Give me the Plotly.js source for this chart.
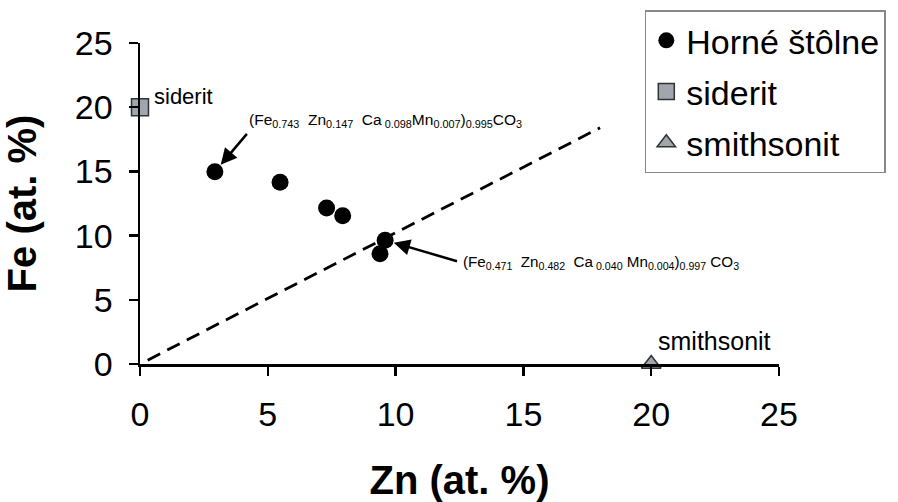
<!DOCTYPE html>
<html>
<head>
<meta charset="utf-8">
<script src="https://cdn.plot.ly/plotly-3.0.1.min.js"></script>
<style>html,body{margin:0;padding:0;background:#fff;}#chart{width:898px;height:502px;}</style>
</head>
<body>
<div id="chart"></div>
<script>
const hornX = [2.93, 5.48, 7.30, 7.93, 9.59, 9.39];
const hornY = [14.98, 14.16, 12.15, 11.55, 9.64, 8.58];
const sideritX = [0];
const sideritY = [20];
const smithX = [20];
const smithY = [0];
const lineX = [0.3, 18];
const lineY = [0.3, 18.4];
const tickVals = [0, 5, 10, 15, 20, 25];
const tickText = ['0', '5', '10', '15', '20', '25'];

const FONT = 'Liberation Sans, Arial, sans-serif';
const gray = '#a1a5ae';

const traces = [
  {x: lineX, y: lineY, mode: 'lines', line: {color: '#000', width: 2.8, dash: '14px,8px'}, showlegend: false, hoverinfo: 'skip'},
  {x: hornX, y: hornY, mode: 'markers', name: 'Horné štôlne', legendgroup: 'a',
   marker: {symbol: 'circle', size: 17, color: '#000'}, cliponaxis: false},
  {x: sideritX, y: sideritY, mode: 'markers', name: 'siderit', legendgroup: 'b',
   marker: {symbol: 'square', size: 17, color: gray, line: {color: '#333', width: 1.5}}, cliponaxis: false},
  {x: smithX, y: smithY, mode: 'markers', name: 'smithsonit', legendgroup: 'c',
   marker: {symbol: 'triangle-up', size: 17, color: gray, line: {color: '#333', width: 1.5}}, cliponaxis: false}
];

const layout = {
  width: 898, height: 502,
  margin: {l: 140, r: 119, t: 43, b: 138, autoexpand: false},
  paper_bgcolor: '#fff', plot_bgcolor: '#fff',
  font: {family: FONT, color: '#000'},
  showlegend: true,
  legend: {
    x: 0.79, y: 1.102, xanchor: 'left', yanchor: 'top',
    bgcolor: '#fff', bordercolor: '#888', borderwidth: 1.5,
    font: {family: FONT, size: 34, color: '#000'},
    traceorder: 'grouped', tracegroupgap: 4,
    entrywidth: 240, entrywidthmode: 'pixels'
  },
  xaxis: {
    range: [0, 25], tickvals: tickVals, ticktext: tickText,
    showgrid: false, zeroline: false, showline: true, linecolor: '#000', linewidth: 2.5,
    ticks: 'outside', ticklen: 9, tickwidth: 2.5, tickcolor: '#000',
    tickfont: {family: FONT, size: 34}, ticklabelstandoff: 10,
    title: {text: '<b>Zn (at. %)</b>', font: {family: FONT, size: 40}, standoff: 34},
    automargin: false, fixedrange: true
  },
  yaxis: {
    range: [0, 25], tickvals: tickVals, ticktext: tickText,
    showgrid: false, zeroline: false, showline: true, linecolor: '#000', linewidth: 2.5,
    ticks: 'outside', ticklen: 9, tickwidth: 2.5, tickcolor: '#000',
    tickfont: {family: FONT, size: 34}, ticklabelstandoff: 9,
    title: {text: '<b>Fe (at. %)</b>', font: {family: FONT, size: 40}, standoff: 26},
    automargin: false, fixedrange: true
  },
  annotations: [
    {xref: 'x', yref: 'y', x: 4.19, y: 19.0, xanchor: 'left', yanchor: 'middle', showarrow: false,
     text: '(Fe<sub>0.743</sub>  Zn<sub>0.147</sub>  Ca<sub> 0.098</sub>Mn<sub>0.007</sub>)<sub>0.995</sub>CO<sub>3</sub>',
     font: {family: FONT, size: 15.5}},
    {xref: 'x', yref: 'y', x: 12.56, y: 7.94, xanchor: 'left', yanchor: 'middle', showarrow: false,
     text: '(Fe<sub>0.471</sub>  Zn<sub>0.482</sub>  Ca<sub> 0.040</sub> Mn<sub>0.004</sub>)<sub>0.997</sub> CO<sub>3</sub>',
     font: {family: FONT, size: 15.2}},
    {xref: 'x', yref: 'y', x: hornX[0], y: hornY[0], axref: 'x', ayref: 'y', ax: 4.3, ay: 18.2,
     text: ' ', showarrow: true, arrowhead: 2, arrowsize: 1.3, arrowwidth: 2.5, arrowcolor: '#000', standoff: 9},
    {xref: 'x', yref: 'y', x: hornX[4], y: hornY[4], axref: 'x', ayref: 'y', ax: 12.52, ay: 7.94,
     text: ' ', showarrow: true, arrowhead: 2, arrowsize: 1.3, arrowwidth: 2.5, arrowcolor: '#000', standoff: 9},
    {xref: 'x', yref: 'y', x: 0.47, y: 20.8, xanchor: 'left', yanchor: 'middle', showarrow: false,
     text: 'siderit', font: {family: FONT, size: 22}},
    {xref: 'x', yref: 'y', x: 22.46, y: 1.8, xanchor: 'center', yanchor: 'middle', showarrow: false,
     text: 'smithsonit', font: {family: FONT, size: 25}}
  ]
};

Plotly.newPlot('chart', traces, layout, {displayModeBar: false, staticPlot: true});
</script>
</body>
</html>
